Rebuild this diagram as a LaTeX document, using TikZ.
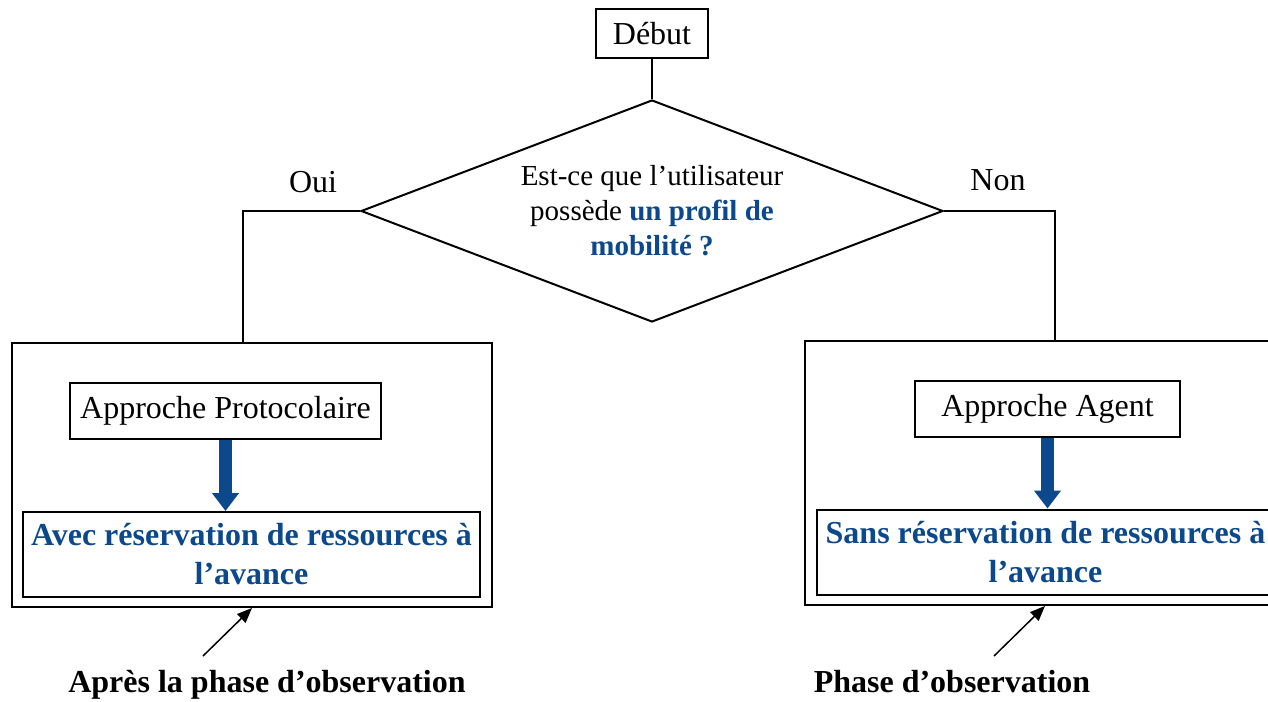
\documentclass[tikz,border=0pt]{standalone}
\usepackage{fontspec}
\setmainfont{Liberation Serif}
\usetikzlibrary{positioning,shapes.geometric,arrows.meta}
\definecolor{darkblue}{RGB}{12,72,140}

\begin{document}
\begin{tikzpicture}[x=0.5pt,y=-0.5pt,line width=1pt,
   font=\fontsize{16}{19.5}\selectfont,
   approach/.style={draw,rectangle,inner sep=0pt,minimum height=28pt},
   phase/.style={draw,rectangle,inner sep=0pt,minimum width=240pt,minimum height=132pt},
   result/.style={draw,rectangle,align=center,inner sep=0pt,minimum width=228.5pt,minimum height=42.5pt,
     text=darkblue,font=\fontsize{16}{19.5}\selectfont\bfseries},
   decision/.style={draw,diamond,aspect=2.6,inner sep=0pt,minimum width=291pt,minimum height=111pt,
     align=center,font=\fontsize{14.5}{17.5}\selectfont},
   fat/.style={draw=darkblue,line width=6.5pt,-{Triangle[width=13pt,length=9pt]}},
   pointer/.style={line width=0.75pt,-{Triangle[width=6pt,length=7.5pt]}},
   note/.style={font=\fontsize{16}{19.5}\selectfont\bfseries}]
   \useasboundingbox (0,0) rectangle (1268,701);

   \node[approach,minimum width=56pt,minimum height=24.5pt] (debut) at (652,34) {Début};
   \node[decision] (question) at (652,211) {Est-ce que l’utilisateur\\
     possède {\color{darkblue}\bfseries un profil de}\\{\color{darkblue}\bfseries mobilité ?}};
   \node (oui) at (313,182) {Oui};
   \node (non) at (998,180) {Non};
   \coordinate (ouicorner) at (243,211);
   \coordinate (noncorner) at (1055,211);

   \node[phase] (protoframe) at (252,475) {};
   \node[approach,minimum width=155.5pt] (proto) at (225.5,411) {Approche Protocolaire};
   \node[result] (avec) at (251.5,554.5) {Avec réservation de ressources à\\l’avance};

   \node[phase] (agentframe) at (1045,473) {};
   \node[approach,minimum width=132.5pt] (agent) at (1047.5,409) {Approche Agent};
   \node[result] (sans) at (1045.5,552) {Sans réservation de ressources à\\l’avance};

   \node[note] (apres) at (267,685) {Après la phase d’observation};
   \node[note] (observ) at (952,682) {Phase d’observation};
   \coordinate (apresfoot) at (203,656);
   \coordinate (observfoot) at (994,656);

   \draw (debut) -- (question);
   \draw (question.west) -- (ouicorner) -- (ouicorner |- protoframe.north);
   \draw (question.east) -- (noncorner) -- (noncorner |- agentframe.north);
   \draw[fat] (proto) -- (proto |- avec.north);
   \draw[fat] (agent) -- (agent |- sans.north);
   \draw[pointer] (apresfoot) -- (protoframe.south);
   \draw[pointer] (observfoot) -- (agentframe.south);
\end{tikzpicture}
\end{document}
